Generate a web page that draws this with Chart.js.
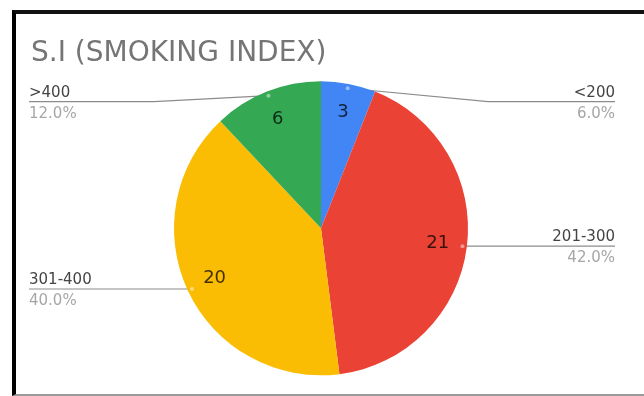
<!DOCTYPE html>
<html>
<head>
<meta charset="utf-8">
<script src="https://cdn.jsdelivr.net/npm/chart.js@4.4.1/dist/chart.umd.min.js"></script>
<style>
  html, body { margin: 0; padding: 0; background: #fff; }
  #wrap { position: relative; width: 644px; height: 396px; overflow: hidden; }
  #frame {
    position: absolute; left: 12px; top: 10px; width: 700px; height: 380px;
    border-left: 4px solid #000; border-top: 4px solid #111; border-bottom: 2px solid #9a9a9a;
  }
  #chart { position: absolute; left: 0; top: 0; }
</style>
</head>
<body>
<div id="wrap">
  <div id="frame"></div>
  <canvas id="chart" width="644" height="396"></canvas>
</div>
<script>
// data
var categories = ['<200', '201-300', '301-400', '>400'];
var counts = [3, 21, 20, 6];

var sliceColors = ['#4285F4', '#EA4335', '#FBBC04', '#34A853'];

// where the leader line of each slice starts, bends and ends
function sliceGeometry(chart) {
  var meta = chart.getDatasetMeta(0);
  var area = chart.chartArea;
  var minLineY = area.top + 31;
  return meta.data.map(function (arc) {
    var p = arc.getProps(['x', 'y', 'startAngle', 'endAngle', 'outerRadius'], true);
    var mid = (p.startAngle + p.endAngle) / 2;
    var ax = p.x + Math.cos(mid) * p.outerRadius * 0.97;
    var ay = p.y + Math.sin(mid) * p.outerRadius * 0.97;
    var right = Math.cos(mid) >= 0;
    return {
      p: p, mid: mid, ax: ax, ay: ay, right: right,
      lineY: Math.max(ay, minLineY),
      elbowX: p.x + (right ? 1 : -1) * (p.outerRadius + 20),
      endX: right ? chart.width - 29 : area.left - 2
    };
  });
}

var leaderLabels = {
  id: 'leaderLabels',
  beforeDatasetsDraw: function (chart) {
    var ctx = chart.ctx;
    ctx.save();
    ctx.strokeStyle = '#8c8c8c';
    ctx.lineWidth = 1.2;
    sliceGeometry(chart).forEach(function (g) {
      ctx.beginPath();
      ctx.moveTo(g.ax, g.ay);
      if (Math.abs(g.lineY - g.ay) > 1) ctx.lineTo(g.elbowX, g.lineY);
      ctx.lineTo(g.endX, g.lineY);
      ctx.stroke();
    });
    ctx.restore();
  },
  afterDatasetsDraw: function (chart) {
    var ctx = chart.ctx;
    var total = counts.reduce(function (a, b) { return a + b; }, 0);
    ctx.save();
    sliceGeometry(chart).forEach(function (g, i) {
      // small dot where the line meets the slice
      ctx.fillStyle = 'rgba(255,255,255,0.45)';
      ctx.beginPath();
      ctx.arc(g.ax, g.ay, 2, 0, Math.PI * 2);
      ctx.fill();

      // value inside the slice
      var r = g.p.outerRadius * 0.8;
      ctx.fillStyle = 'rgba(0,0,0,0.75)';
      ctx.font = '18px "DejaVu Sans"';
      ctx.textAlign = 'center';
      ctx.textBaseline = 'middle';
      ctx.fillText(String(counts[i]), g.p.x + Math.cos(g.mid) * r, g.p.y + Math.sin(g.mid) * r);

      // category and percentage at the end of the line
      ctx.textAlign = g.right ? 'right' : 'left';
      ctx.textBaseline = 'alphabetic';
      ctx.font = '15px "DejaVu Sans"';
      ctx.fillStyle = '#444';
      ctx.fillText(categories[i], g.endX, g.lineY - 5);
      ctx.fillStyle = '#a6a6a6';
      ctx.fillText((counts[i] / total * 100).toFixed(1) + '%', g.endX, g.lineY + 16);
    });
    ctx.restore();
  }
};

new Chart(document.getElementById('chart'), {
  type: 'pie',
  data: {
    labels: categories,
    datasets: [{
      data: counts,
      backgroundColor: sliceColors,
      borderWidth: 0
    }]
  },
  options: {
    responsive: false,
    animation: false,
    radius: 147,
    layout: { padding: { top: 10, left: 31, right: 33, bottom: 10 } },
    plugins: {
      legend: { display: false },
      tooltip: { enabled: false },
      title: {
        display: true,
        text: 'S.I (SMOKING INDEX)',
        align: 'start',
        color: '#757575',
        font: { family: '"DejaVu Sans"', size: 28, weight: 'normal' },
        padding: { top: 27, bottom: 0 }
      }
    }
  },
  plugins: [leaderLabels]
});
</script>
</body>
</html>
